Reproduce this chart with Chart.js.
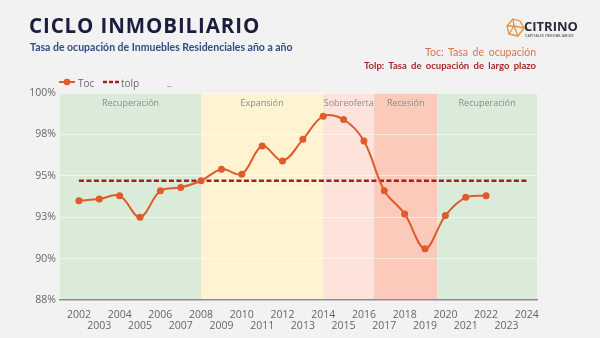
<!DOCTYPE html>
<html>
<head>
<meta charset="utf-8">
<script src="https://cdn.jsdelivr.net/npm/chart.js@4.4.1/dist/chart.umd.min.js"></script>
<style>
  html,body{margin:0;padding:0;background:#F2F2F2;width:600px;height:338px;overflow:hidden;}
  #wrap{position:relative;width:600px;height:338px;}
  #c{position:absolute;left:0;top:0;}
  .t{position:absolute;white-space:nowrap;}
  #title{left:29px;top:11px;font:700 20.5px "Open Sans",sans-serif;color:#1C1C3D;letter-spacing:0.9px;}
  #sub{left:30px;top:41px;font:700 10.5px Lato,sans-serif;color:#2F4C86;}
  #n1{right:64px;top:46px;font:400 10.5px Lato,sans-serif;color:#E0704A;word-spacing:2px;}
  #n2{right:64px;top:60px;font:700 9.5px Lato,sans-serif;color:#A52A2A;word-spacing:2px;}
  #logoTxt{left:524px;top:17px;font:700 13px "Open Sans",sans-serif;color:#2A2A3E;}
  #logoSub{left:525px;top:33px;font:600 3.6px "Open Sans",sans-serif;color:#555;letter-spacing:0.1px;}
  #logo{position:absolute;left:506px;top:18px;}
  .lg{position:absolute;top:76px;font:400 10px "Open Sans",sans-serif;color:#6A6A6A;}
</style>
</head>
<body>
<div id="wrap">
  <canvas id="c" width="600" height="338"></canvas>
  <div class="t" id="title">CICLO INMOBILIARIO</div>
  <div class="t" id="sub">Tasa de ocupación de Inmuebles Residenciales año a año</div>
  <svg id="logo" width="19" height="19" viewBox="0 0 19 19">
    <g fill="none" stroke="#E8923A" stroke-width="1.3" stroke-linejoin="round">
      <polygon points="7,1 14,3 18,10 12,18 3,16 1,8"/>
      <polyline points="7,1 8,8 1,8"/>
      <polyline points="8,8 12,18"/>
      <polyline points="8,8 18,10"/>
      <polyline points="8,8 3,16"/>
    </g>
  </svg>
  <div class="t" id="logoTxt">CITRINO</div>
  <div class="t" id="logoSub">CAPITALES INMOBILIARIOS</div>
  <div class="t" id="n1">Toc: Tasa de ocupación</div>
  <div class="t" id="n2">Tolp: Tasa de ocupación de largo plazo</div>
  <svg style="position:absolute;left:58px;top:77px" width="18" height="10"><line x1="1" y1="5" x2="17" y2="5" stroke="#E05A2A" stroke-width="2"/><circle cx="9" cy="5" r="3.3" fill="#E05A2A"/></svg>
  <div class="lg" style="left:78px">Toc</div>
  <svg style="position:absolute;left:102px;top:77px" width="18" height="10"><line x1="1" y1="5" x2="17" y2="5" stroke="#A5201E" stroke-width="2.5" stroke-dasharray="4,2"/></svg>
  <div class="lg" style="left:121px">tolp</div>
  <div class="lg" style="left:167px;top:74px;color:#999">_</div>
</div>
<script>
// ---- data ----
const years = [2002,2003,2004,2005,2006,2007,2008,2009,2010,2011,2012,2013,2014,2015,2016,2017,2018,2019,2020,2021,2022,2023,2024];
const tocValues = [93.5,93.6,93.8,92.5,94.1,94.3,94.7,95.4,95.1,96.8,95.9,97.2,98.6,98.4,97.1,94.1,92.7,90.6,92.6,93.7,93.8];
const tolpValues = [94.7,94.7,94.7,94.7,94.7,94.7,94.7,94.7,94.7,94.7,94.7,94.7,94.7,94.7,94.7,94.7,94.7,94.7,94.7,94.7,94.7,94.7,94.7];
const yTicks = [87.5,90,92.5,95,97.5,100];
const phaseLabels = ['Recuperación','Expansión','Sobreoferta','Recesión','Recuperación'];
const phaseStart = [2001.07,2008,2014,2016.5,2019.6];
const phaseEnd = [2008,2014,2016.5,2019.6,2024.5];
const phaseColors = ['rgb(218,236,217)','rgb(255,243,210)','rgb(253,227,219)','rgb(252,202,186)','rgb(218,236,217)'];

const phasePlugin = {
  id:'phases',
  beforeDraw(chart){
    const {ctx, chartArea:a, scales:{x}} = chart;
    ctx.save();
    phaseLabels.forEach((lab,i)=>{
      const x0 = x.getPixelForValue(phaseStart[i]);
      const x1 = x.getPixelForValue(phaseEnd[i]);
      ctx.fillStyle = phaseColors[i];
      ctx.fillRect(x0, a.top, x1-x0, a.bottom-a.top);
    });
    ctx.restore();
  },
  afterDraw(chart){
    const {ctx, chartArea:a, scales:{x}} = chart;
    ctx.save();
    ctx.font = '9px "Open Sans", sans-serif';
    ctx.fillStyle = '#8C8C8C';
    ctx.textAlign = 'center';
    ctx.textBaseline = 'middle';
    phaseLabels.forEach((lab,i)=>{
      const x0 = x.getPixelForValue(phaseStart[i]);
      const x1 = x.getPixelForValue(phaseEnd[i]);
      ctx.fillText(lab, (x0+x1)/2, a.top+10);
    });
    ctx.restore();
  }
};

new Chart(document.getElementById('c'), {
  type:'line',
  data:{
    datasets:[
      {label:'tolp', data: years.map((yr,i)=>({x:yr,y:tolpValues[i]})), borderColor:'#A5201E', borderWidth:2.5, borderDash:[5,2.5], pointRadius:0, tension:0, order:2},
      {label:'Toc', data: tocValues.map((v,i)=>({x:years[i],y:v})), borderColor:'#E05A2A', backgroundColor:'#E05A2A', borderWidth:2, pointRadius:3.5, pointBorderWidth:0, tension:0.35, order:1}
    ]
  },
  options:{
    responsive:false,
    animation:false,
    layout:{padding:{top:93,right:63,bottom:0,left:0}},
    plugins:{legend:{display:false},tooltip:{enabled:false}},
    scales:{
      x:{
        type:'linear', min:2001.07, max:2024.5,
        afterFit(s){ s.height = 38; },
        afterBuildTicks(s){ s.ticks = years.map(v=>({value:v})); },
        grid:{display:false},
        border:{display:true,color:'#8C8C8C',width:1.5},
        ticks:{autoSkip:false,maxRotation:0,padding:1,color:'#666666',font:{family:'"Open Sans", sans-serif',size:10.5,lineHeight:1.1},
          callback(v){ const i = years.indexOf(v); return i%2===0 ? String(v) : ['', String(v)]; }}
      },
      y:{
        min:87.5, max:100,
        afterFit(s){ s.width = 60; },
        afterBuildTicks(s){ s.ticks = yTicks.map(v=>({value:v})); },
        grid:{color:'rgba(255,255,255,0.55)',lineWidth:1,drawTicks:false},
        border:{display:false},
        ticks:{padding:4,color:'#666666',font:{family:'"Open Sans", sans-serif',size:10.5},callback(v){return Math.round(v)+'%';}}
      }
    }
  },
  plugins:[phasePlugin]
});
</script>
</body>
</html>
